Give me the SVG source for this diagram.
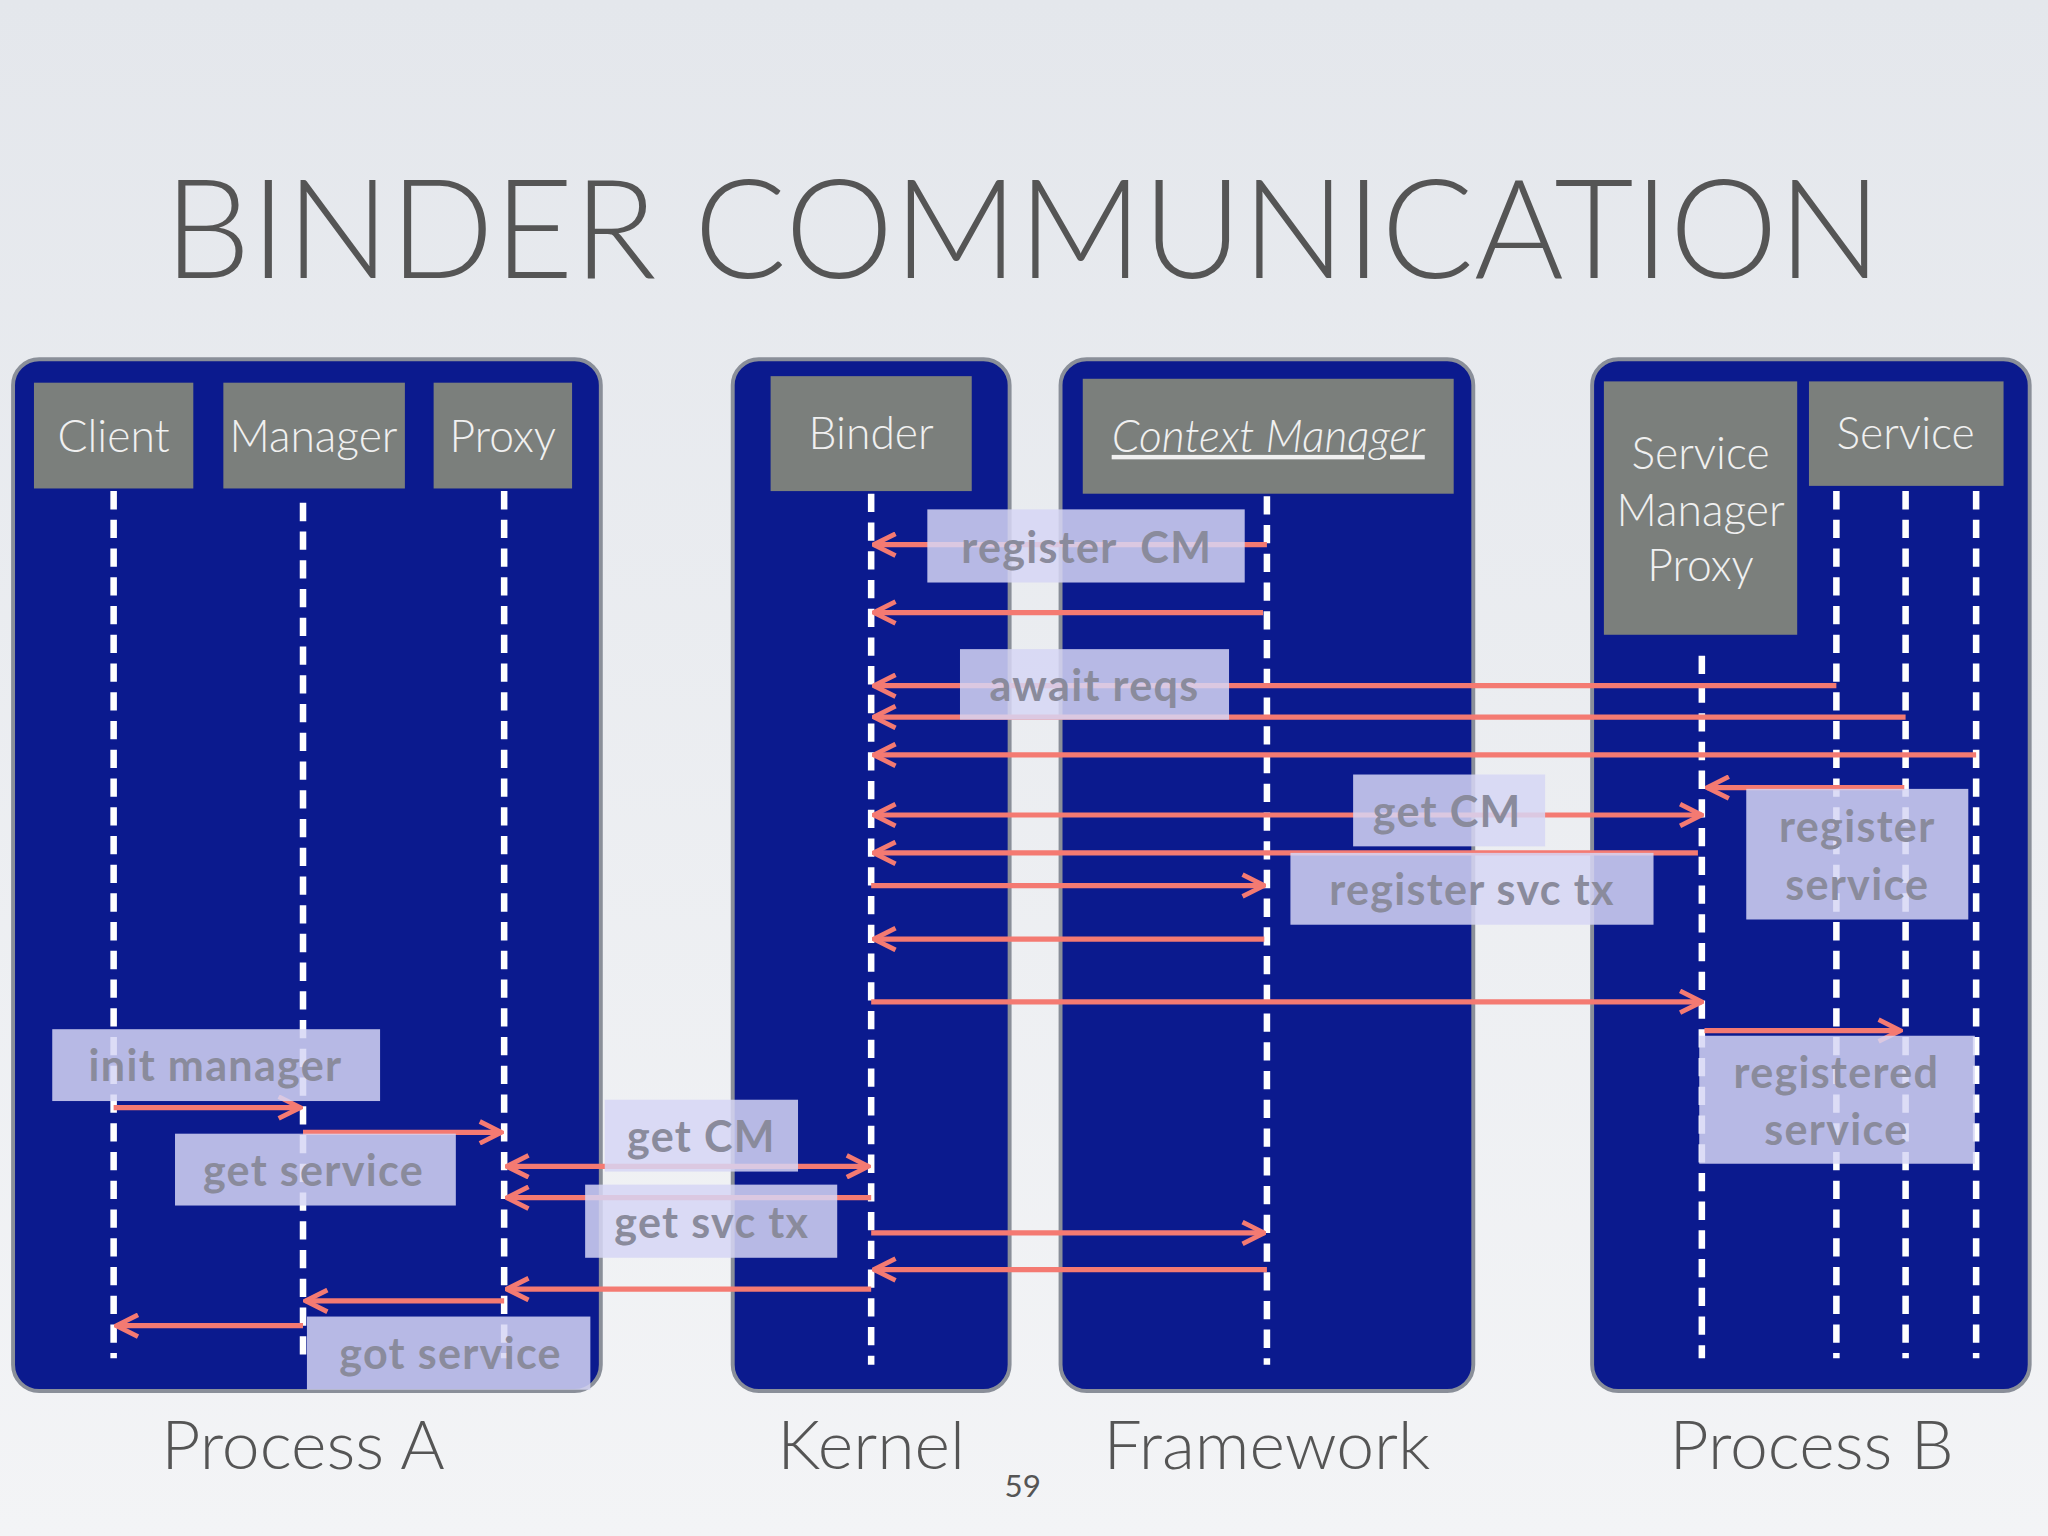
<svg xmlns="http://www.w3.org/2000/svg" width="2048" height="1536" viewBox="0 0 2048 1536">
<defs>
<linearGradient id="bg" x1="0" y1="0" x2="0" y2="1"><stop offset="0" stop-color="#e4e7ec"/><stop offset="1" stop-color="#f3f4f6"/></linearGradient>
<marker id="ah" viewBox="0 0 12 12" refX="11" refY="6" markerWidth="20" markerHeight="20" markerUnits="userSpaceOnUse" orient="auto-start-reverse"><path d="M1,1 L11,6 L1,11" fill="none" stroke="#f47a72" stroke-width="2.2"/></marker>
<style>
.panel{fill:#0b1a8e;stroke:#8a8f99;stroke-width:3}
.hdr{fill:#7b7f7c}
.ht{font-family:Lato,"Open Sans",sans-serif;font-weight:300;font-size:34px;fill:#f0f0f0;text-anchor:middle}
.life{stroke:#fff;stroke-width:5;stroke-dasharray:14 8;fill:none}
.ar{stroke:#f47a72;stroke-width:4;fill:none;marker-end:url(#ah)}
.bi{marker-start:url(#ah)}
.lb{fill:#d6d6f4;opacity:0.85}
.lt{font-family:Lato,"Open Sans",sans-serif;font-weight:700;font-size:33px;letter-spacing:1px;fill:#8a8b9c;text-anchor:middle}
.bt{font-family:Lato,"Open Sans",sans-serif;font-weight:300;font-size:52px;fill:#555;text-anchor:middle}
</style>
</defs>
<rect width="2048" height="1536" fill="url(#bg)"/>
<g transform="scale(1.3061)">
<text x="783" y="213" font-family="Lato,'Open Sans',sans-serif" font-weight="300" font-size="106" fill="#555" text-anchor="middle" textLength="1315" lengthAdjust="spacingAndGlyphs">BINDER COMMUNICATION</text>
<g id="processA"><rect class="panel" x="10" y="275" width="450" height="790" rx="20"/>
<rect class="hdr" x="26" y="293" width="122" height="81"/><text class="ht" x="87" y="346">Client</text>
<rect class="hdr" x="171" y="293" width="139" height="81"/><text class="ht" x="240" y="346">Manager</text>
<rect class="hdr" x="332" y="293" width="106" height="81"/><text class="ht" x="385" y="346">Proxy</text>
<text class="bt" x="232" y="1125">Process A</text></g>
<g id="kernel"><rect class="panel" x="561" y="275" width="212" height="790" rx="20"/>
<rect class="hdr" x="590" y="288" width="154" height="88"/><text class="ht" x="667" y="344">Binder</text>
<text class="bt" x="667" y="1125">Kernel</text></g>
<g id="framework"><rect class="panel" x="812" y="275" width="316" height="790" rx="20"/>
<rect class="hdr" x="829" y="290" width="284" height="88"/><text class="ht" x="971" y="346" font-style="italic" text-decoration="underline">Context Manager</text>
<text class="bt" x="970" y="1125">Framework</text></g>
<g id="processB"><rect class="panel" x="1219" y="275" width="335" height="790" rx="20"/>
<rect class="hdr" x="1228" y="292" width="148" height="194"/>
<text class="ht" x="1302" y="359">Service</text><text class="ht" x="1302" y="403">Manager</text><text class="ht" x="1302" y="445">Proxy</text>
<rect class="hdr" x="1385" y="292" width="149" height="80"/><text class="ht" x="1459" y="344">Service</text>
<text class="bt" x="1387" y="1125">Process B</text></g>
<g id="lifelines">
<path class="life" d="M87,376V1040M232,385V1040M386,376V1040M667,378V1045M970,380V1045M1303,502V1040M1406,376V1040M1459,376V1040M1513,376V1040"/>
</g>
<g id="connectors">
<path class="ar" d="M970,417H669"/>
<path class="ar" d="M967,469H669"/>
<path class="ar" d="M1406,525H669"/>
<path class="ar" d="M1459,549H669"/>
<path class="ar" d="M1513,578H669"/>
<path class="ar" d="M1458,603H1307"/>
<path class="ar bi" d="M669,624H1303"/>
<path class="ar" d="M1300,653H669"/>
<path class="ar" d="M667,678H968"/>
<path class="ar" d="M968,719H669"/>
<path class="ar" d="M667,767H1303"/>
<path class="ar" d="M1305,789H1455"/>
<path class="ar" d="M87,848H230"/>
<path class="ar" d="M232,867H384"/>
<path class="ar bi" d="M388,893H665"/>
<path class="ar" d="M667,917H388"/>
<path class="ar" d="M667,944H968"/>
<path class="ar" d="M970,972H669"/>
<path class="ar" d="M667,987H388"/>
<path class="ar" d="M386,996H234"/>
<path class="ar" d="M232,1015H89"/>
</g>
<g id="labels">
<rect class="lb" x="710" y="390" width="243" height="56"/><text class="lt" x="832" y="431" xml:space="preserve">register  CM</text>
<rect class="lb" x="735" y="497" width="206" height="54"/><text class="lt" x="838" y="537">await reqs</text>
<rect class="lb" x="1036" y="593" width="147" height="55"/><text class="lt" x="1108" y="633">get CM</text>
<rect class="lb" x="988" y="653" width="278" height="55"/><text class="lt" x="1127" y="693">register svc tx</text>
<rect class="lb" x="1337" y="604" width="170" height="100"/><text class="lt" x="1422" y="645">register</text><text class="lt" x="1422" y="689">service</text>
<rect class="lb" x="1301" y="793" width="211" height="98"/><text class="lt" x="1406" y="833">registered</text><text class="lt" x="1406" y="877">service</text>
<rect class="lb" x="40" y="788" width="251" height="55"/><text class="lt" x="165" y="828">init manager</text>
<rect class="lb" x="134" y="868" width="215" height="55"/><text class="lt" x="240" y="908">get service</text>
<rect class="lb" x="463" y="842" width="148" height="55"/><text class="lt" x="537" y="882">get CM</text>
<rect class="lb" x="448" y="907" width="193" height="56"/><text class="lt" x="545" y="948">get svc tx</text>
<rect class="lb" x="235" y="1008" width="217" height="56"/><text class="lt" x="345" y="1048">got service</text>
</g>
<text x="783" y="1146" font-family="Lato,sans-serif" font-size="24" fill="#555" text-anchor="middle">59</text>
</g>
</svg>
